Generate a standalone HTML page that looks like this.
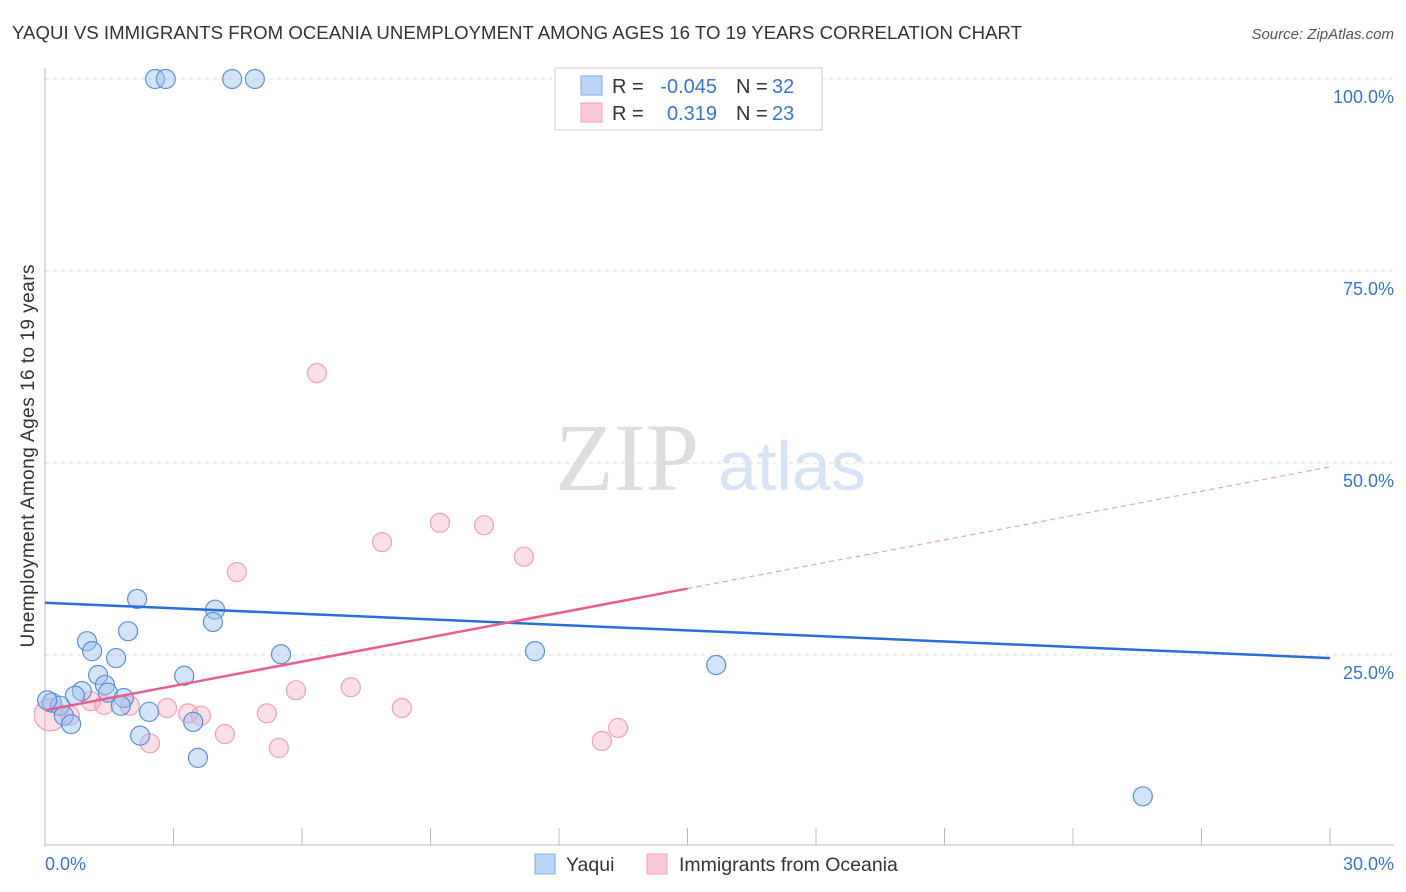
<!DOCTYPE html>
<html><head><meta charset="utf-8"><style>
body{margin:0;background:#fff;font-family:"Liberation Sans",sans-serif;}
svg{display:block}
</style></head><body>
<svg id="chart" width="1406" height="892">
<text x="12" y="39" font-size="18.6" fill="#333" textLength="1010">YAQUI VS IMMIGRANTS FROM OCEANIA UNEMPLOYMENT AMONG AGES 16 TO 19 YEARS CORRELATION CHART</text>
<text x="1394" y="39" font-size="15" fill="#555" font-style="italic" text-anchor="end">Source: ZipAtlas.com</text>
<text x="555" y="490" font-size="96" fill="#ddd" font-family="Liberation Serif,serif">ZIP</text>
<text x="718" y="490" font-size="70" fill="#d6e4f5">atlas</text>
<g id="grid"></g><g id="axes"></g><g id="pts"></g><g id="lines"></g>
<text x="34" y="456" font-size="19" fill="#333" text-anchor="middle" textLength="383" transform="rotate(-90 34 456)">Unemployment Among Ages 16 to 19 years</text>
<text x="45" y="870" font-size="18" fill="#3a74c9">0.0%</text>
<text x="1394" y="870" font-size="18" fill="#3a74c9" text-anchor="end">30.0%</text>
<g>
<rect x="555" y="68" width="267" height="62" fill="#fff" stroke="#ccc"/>
<rect x="581" y="76" width="21" height="19" fill="#bcd4f5" stroke="#7fa8e0"/>
<rect x="581" y="103" width="21" height="19" fill="#fbcad8" stroke="#f0a0b8"/>
<text x="612" y="93" font-size="20" fill="#333">R = </text><text x="717" y="93" font-size="20" fill="#3a74c9" text-anchor="end">-0.045</text>
<text x="736" y="93" font-size="20" fill="#333">N = </text><text x="772" y="93" font-size="20" fill="#3a74c9">32</text>
<text x="612" y="120" font-size="20" fill="#333">R = </text><text x="717" y="120" font-size="20" fill="#3a74c9" text-anchor="end">0.319</text>
<text x="736" y="120" font-size="20" fill="#333">N = </text><text x="772" y="120" font-size="20" fill="#3a74c9">23</text>
</g>
<g>
<rect x="535" y="854" width="20" height="20" fill="#bcd4f5" stroke="#7fa8e0"/>
<text x="566" y="871" font-size="19.5" fill="#333">Yaqui</text>
<rect x="647" y="854" width="20" height="20" fill="#fbcad8" stroke="#f0a0b8"/>
<text x="679" y="871" font-size="19.5" fill="#333">Immigrants from Oceania</text>
</g>
</svg>
<script>
const yTicks=[25,50,75,100];
const yTickLabels=["25.0%","50.0%","75.0%","100.0%"];
const xTicks=[0,3,6,9,12,15,18,21,24,27,30];
const blueX=[2.57,2.82,4.37,4.90,2.15,3.97,3.92,1.94,0.98,1.10,1.66,5.51,11.44,15.67,3.25,1.24,1.40,0.86,0.70,1.47,1.84,1.77,2.43,0.16,0.35,0.44,0.61,2.22,3.46,3.57,25.63,0.05];
const blueY=[100,100,100,100,32.3,30.9,29.3,28.1,26.8,25.5,24.6,25.1,25.5,23.7,22.3,22.4,21.1,20.3,19.7,20.1,19.4,18.4,17.6,18.8,18.4,17.1,16.0,14.5,16.3,11.6,6.6,19.1];
const pinkX=[6.35,9.22,10.25,7.87,11.18,4.48,7.14,5.86,8.33,5.18,2.85,3.34,3.64,1.98,1.38,1.07,0.58,4.20,2.45,5.46,13.0,13.38,0.12];
const pinkY=[61.7,42.2,41.9,39.7,37.8,35.8,20.8,20.4,18.1,17.4,18.1,17.4,17.1,18.4,18.5,19.0,17.1,14.7,13.5,12.9,13.8,15.5,17.2];
const blueTrend=[31.8,24.6];
const pinkTrend=[17.8,49.5];
const pinkSolidEnd=15;
const ns="http://www.w3.org/2000/svg";
const X=v=>45+v/30*1285, Y=v=>847-v*7.68;
function mk(t,a,p){const e=document.createElementNS(ns,t);for(const k in a)e.setAttribute(k,a[k]);p.appendChild(e);return e;}
const grid=document.getElementById('grid'),axes=document.getElementById('axes'),pts=document.getElementById('pts'),lines=document.getElementById('lines');
yTicks.forEach((t,i)=>{
 const l=mk('line',{x1:45,x2:1394,y1:Y(t),y2:Y(t),stroke:'#ddd','stroke-dasharray':'4,4'},grid);
 
 
 const tx=mk('text',{x:1394,y:Y(t)+24,'font-size':18,fill:'#3a74c9','text-anchor':'end'},grid);
 tx.textContent=yTickLabels[i];
 
 
});
let a=mk('line',{x1:45,x2:45,y1:68,y2:847,stroke:'#bbb'},axes);


a=mk('line',{x1:45,x2:1394,y1:845,y2:845,stroke:'#bbb'},axes);


xTicks.forEach(t=>{const e=mk('line',{x1:X(t),x2:X(t),y1:828,y2:845,stroke:'#bbb'},axes);
 
 });
pinkX.forEach((x,i)=>{const c=mk('circle',{cx:X(x),cy:Y(pinkY[i]),r:i==pinkX.length-1?16:9.5,fill:'rgba(245,160,185,0.35)',stroke:'#eea0b8','stroke-width':1.2},pts);
 
 });
blueX.forEach((x,i)=>{const c=mk('circle',{cx:X(x),cy:Y(blueY[i]),r:9.5,fill:'rgba(160,195,240,0.45)',stroke:'#5b8fd8','stroke-width':1.2},pts);
 
 });
let t=mk('line',{x1:X(0),y1:Y(blueTrend[0]),x2:X(30),y2:Y(blueTrend[1]),stroke:'#2a6fd6','stroke-width':2.5},lines);


const pm=pinkTrend[0]+(pinkTrend[1]-pinkTrend[0])*pinkSolidEnd/30;
t=mk('line',{x1:X(0),y1:Y(pinkTrend[0]),x2:X(pinkSolidEnd),y2:Y(pm),stroke:'#e8608a','stroke-width':2.5},lines);


t=mk('line',{x1:X(pinkSolidEnd),y1:Y(pm),x2:X(30),y2:Y(pinkTrend[1]),stroke:'#e8a0b8','stroke-width':1.2,'stroke-dasharray':'5,4'},lines);


</script>
</body></html>
